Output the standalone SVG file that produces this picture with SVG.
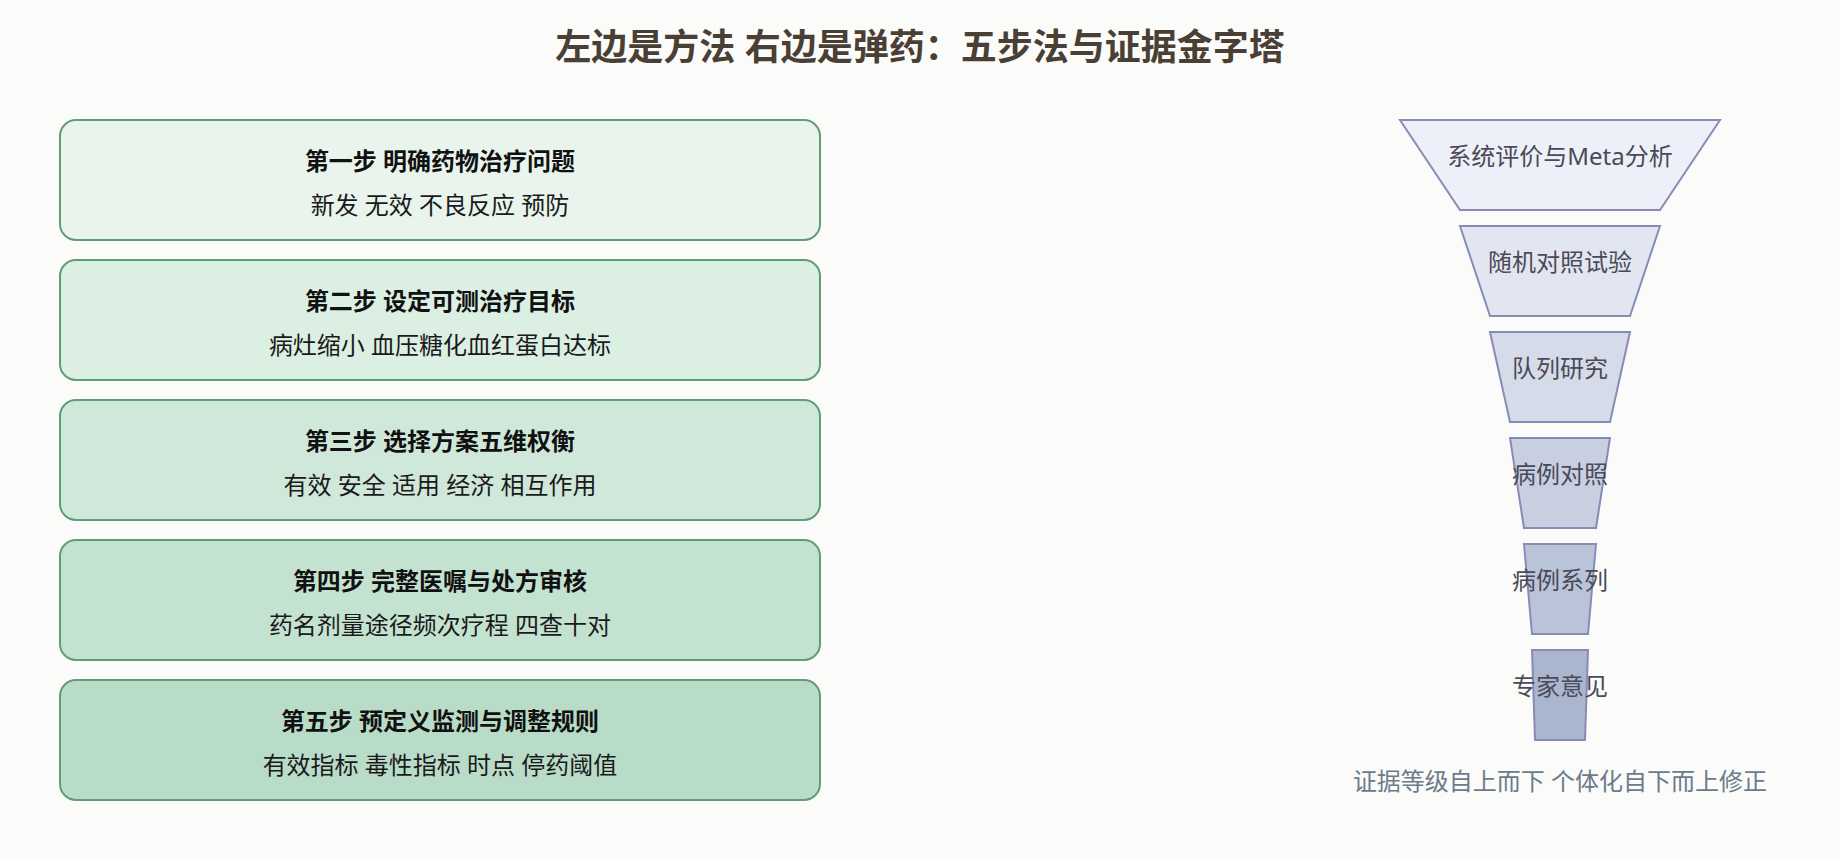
<svg xmlns="http://www.w3.org/2000/svg" width="1840" height="860" viewBox="0 0 1840 860">
<style>
.bg{fill:#fbfbf9}
.title{font-family:"Noto Sans","Noto Sans CJK SC",sans-serif;font-size:36px;font-weight:bold;fill:#4a3f35;text-anchor:middle}
.step{stroke:#5e9d76;stroke-width:2}
.st{font-family:"Noto Sans","Noto Sans CJK SC",sans-serif;font-size:24px;font-weight:bold;fill:#111;text-anchor:middle}
.sd{font-family:"Noto Sans","Noto Sans CJK SC",sans-serif;font-size:24px;fill:#1a1a1a;text-anchor:middle}
.tr{stroke:#8a8ab8;stroke-width:2}
.tt{font-family:"Noto Sans","Noto Sans CJK SC",sans-serif;font-size:24px;fill:#4a4a58;text-anchor:middle}
.cap{font-family:"Noto Sans","Noto Sans CJK SC",sans-serif;font-size:24px;fill:#6b7b8c;text-anchor:middle}
</style>
<rect class="bg" x="0" y="0" width="1840" height="860"/>
<text class="title" x="920" y="60">左边是方法 右边是弹药：五步法与证据金字塔</text>
<g id="step1"><rect class="step" x="60" y="120" width="760" height="120" rx="16" fill="#e8f4ec"/><text class="st" x="440" y="170">第一步 明确药物治疗问题</text><text class="sd" x="440" y="214">新发 无效 不良反应 预防</text></g>
<g id="step2"><rect class="step" x="60" y="260" width="760" height="120" rx="16" fill="#dcefe3"/><text class="st" x="440" y="310">第二步 设定可测治疗目标</text><text class="sd" x="440" y="354">病灶缩小 血压糖化血红蛋白达标</text></g>
<g id="step3"><rect class="step" x="60" y="400" width="760" height="120" rx="16" fill="#d0e8da"/><text class="st" x="440" y="450">第三步 选择方案五维权衡</text><text class="sd" x="440" y="494">有效 安全 适用 经济 相互作用</text></g>
<g id="step4"><rect class="step" x="60" y="540" width="760" height="120" rx="16" fill="#c4e2d0"/><text class="st" x="440" y="590">第四步 完整医嘱与处方审核</text><text class="sd" x="440" y="634">药名剂量途径频次疗程 四查十对</text></g>
<g id="step5"><rect class="step" x="60" y="680" width="760" height="120" rx="16" fill="#b9dcc8"/><text class="st" x="440" y="730">第五步 预定义监测与调整规则</text><text class="sd" x="440" y="774">有效指标 毒性指标 时点 停药阈值</text></g>
<g id="level1"><polygon class="tr" points="1400,120 1720,120 1660,210 1460,210" fill="#edf0f8"/><text class="tt" x="1560" y="165">系统评价与Meta分析</text></g>
<g id="level2"><polygon class="tr" points="1460,226 1660,226 1630,316 1490,316" fill="#e2e6f1"/><text class="tt" x="1560" y="271">随机对照试验</text></g>
<g id="level3"><polygon class="tr" points="1490,332 1630,332 1610,422 1510,422" fill="#d5dbe8"/><text class="tt" x="1560" y="377">队列研究</text></g>
<g id="level4"><polygon class="tr" points="1510,438 1610,438 1596,528 1524,528" fill="#c8cfe1"/><text class="tt" x="1560" y="483">病例对照</text></g>
<g id="level5"><polygon class="tr" points="1524,544 1596,544 1588,634 1532,634" fill="#bac4d9"/><text class="tt" x="1560" y="589">病例系列</text></g>
<g id="level6"><polygon class="tr" points="1532,650 1588,650 1585,740 1535,740" fill="#aab5ce"/><text class="tt" x="1560" y="695">专家意见</text></g>
<g id="connectors"></g>
<text class="cap" x="1560" y="790">证据等级自上而下 个体化自下而上修正</text>
</svg>
